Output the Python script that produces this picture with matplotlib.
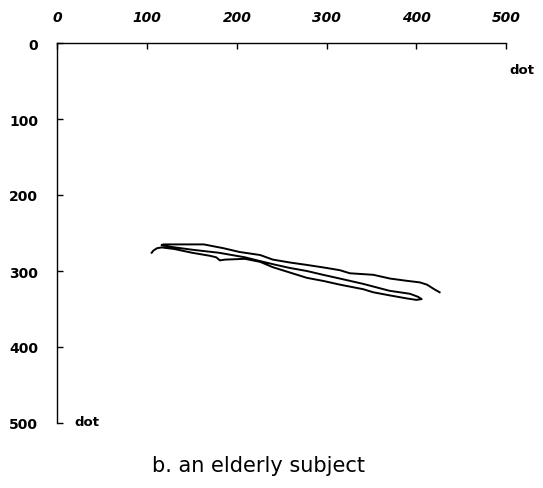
import matplotlib
matplotlib.use("Agg")
import matplotlib.pyplot as plt

# Pen trajectory (dot coordinates)
traj_x = [105, 107, 111, 116, 130, 150, 170, 177, 181, 187, 209, 226, 240, 259, 278, 296, 315, 341, 352, 370, 389, 400, 406,
          402, 393, 370, 341, 315, 296, 278, 259, 240, 226, 209, 180, 150, 125, 116,
          118, 140, 163, 185, 203, 226, 240, 260, 278, 300, 315, 326, 352, 371, 390, 404, 412, 420, 426]
traj_y = [276, 273, 270, 269, 271, 276, 280, 282, 286, 285, 284, 288, 295, 302, 309, 313, 318, 324, 328, 332, 336, 338, 337,
          334, 330, 326, 317, 310, 305, 300, 296, 291, 287, 282, 276, 272, 268, 266,
          265, 265, 265, 270, 275, 279, 285, 289, 292, 296, 299, 303, 305, 310, 313, 315, 318, 324, 328]

x_ticks = [0, 100, 200, 300, 400, 500]
y_ticks = [0, 100, 200, 300, 400, 500]
axis_unit = "dot"
caption = "b. an elderly subject"

fig = plt.figure(figsize=(5.43, 4.89), dpi=100)
ax = fig.add_axes([57.5 / 543, 1 - 424 / 489, (506 - 57.5) / 543, (424 - 44) / 489])

ax.plot(traj_x, traj_y, color="black", lw=1.4, solid_joinstyle="round")

ax.set_xlim(0, 500)
ax.set_ylim(500, 0)

ax.spines["bottom"].set_visible(False)
ax.spines["right"].set_visible(False)
for s in ("top", "left"):
    ax.spines[s].set_linewidth(1.0)
    ax.spines[s].set_color("black")

ax.xaxis.tick_top()
ax.set_xticks(x_ticks)
ax.set_yticks(y_ticks)
ax.set_xticklabels([str(v) for v in x_ticks], fontsize=10, fontweight="bold", fontstyle="italic")
ax.set_yticklabels([str(v) for v in y_ticks], fontsize=10, fontweight="bold")
ax.tick_params(axis="x", direction="in", length=4, width=1, pad=14, top=True, bottom=False)
ax.tick_params(axis="y", direction="in", length=4, width=1, pad=14, left=True, right=False)

fig.text(522 / 543, 1 - 70 / 489, axis_unit, ha="center", va="center", fontsize=9.5, fontweight="bold")
fig.text(87 / 543, 1 - 423 / 489, axis_unit, ha="center", va="center", fontsize=9.5, fontweight="bold")

fig.text(258 / 543, 1 - 466 / 489, caption, ha="center", va="center", fontsize=15)

fig.savefig("out.png", dpi=100)
